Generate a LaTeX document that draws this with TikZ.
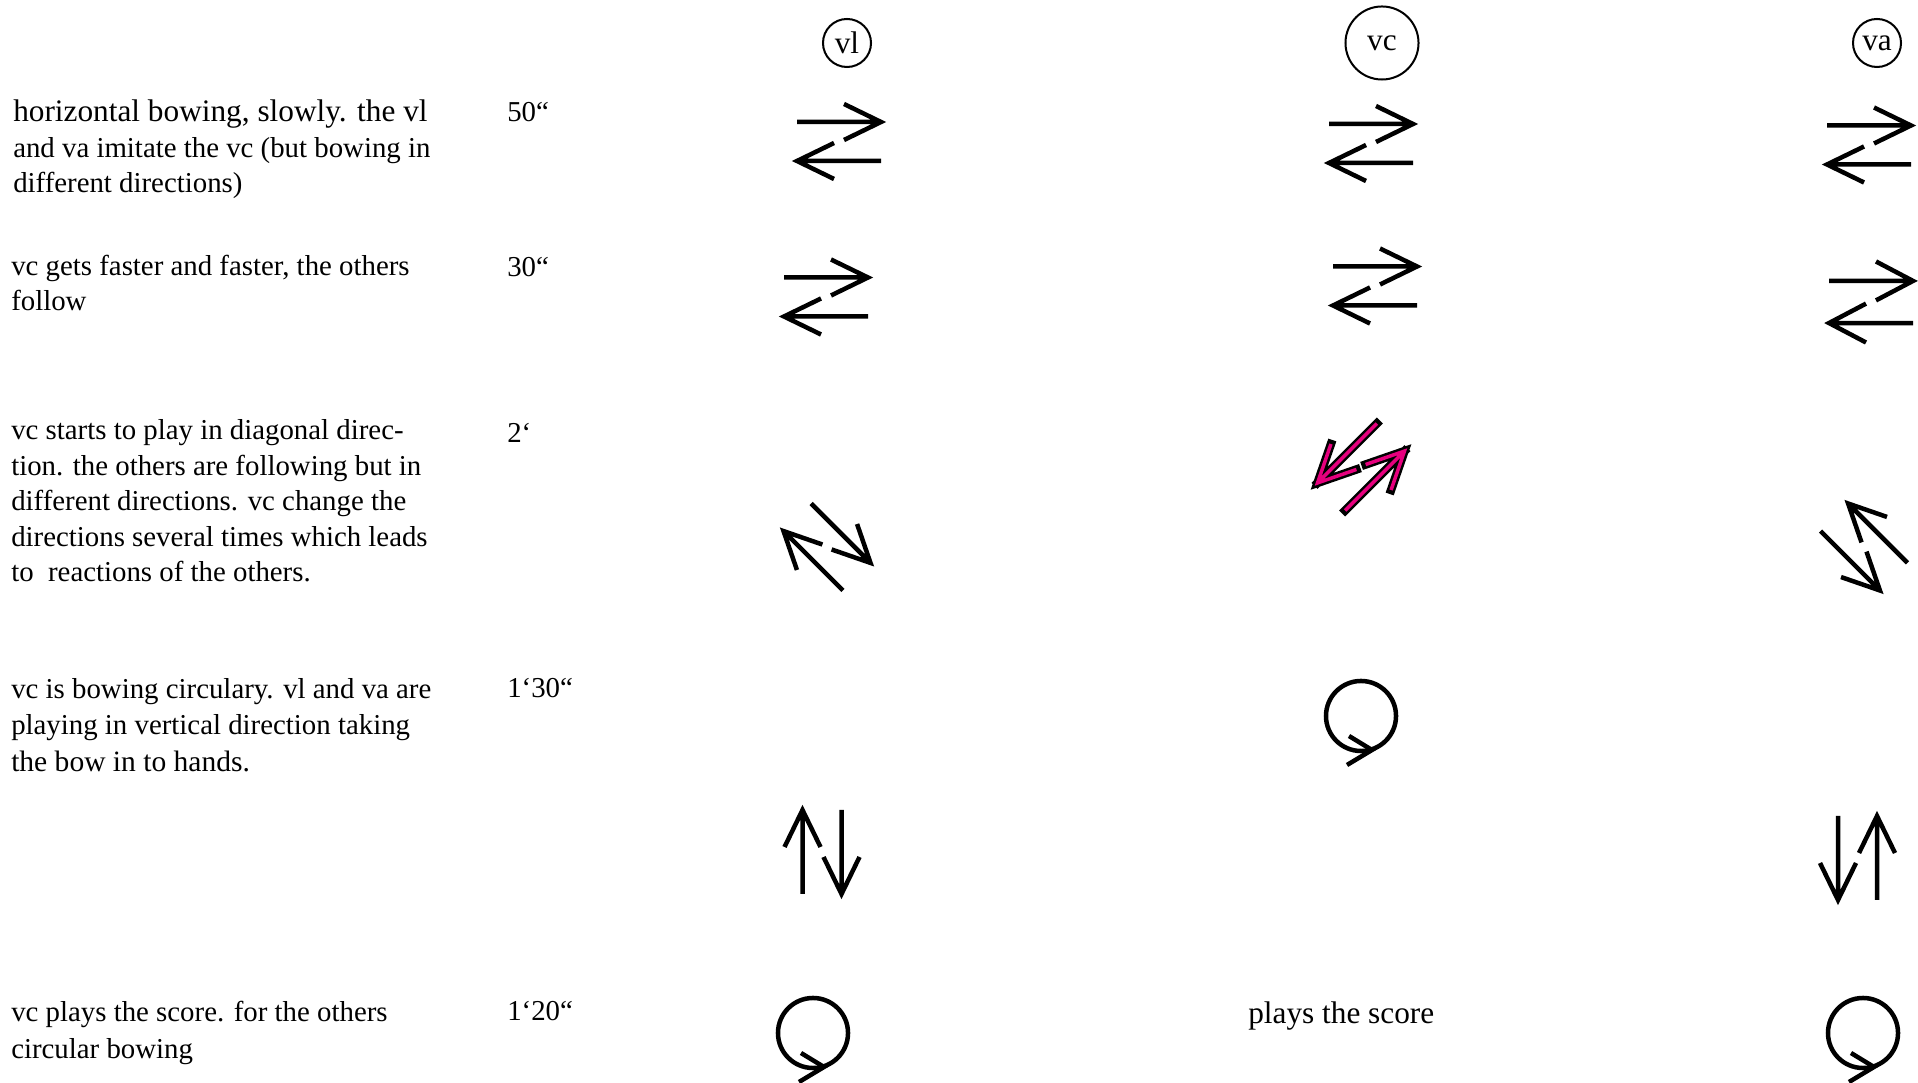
\documentclass[tikz,border=0pt]{standalone}
\usepackage{fontspec}
\setmainfont{Liberation Serif}
\usepackage{xcolor}
\definecolor{bowmagenta}{RGB}{230,0,126}
\usetikzlibrary{arrows.meta}

\newcommand\notefont{\fontsize{8.2}{10.1}\selectfont}
\newcommand\bignotefont{\fontsize{8.9}{10.1}\selectfont}

\tikzset{
  note/.style={anchor=base west, align=left, inner sep=0pt, font=\notefont},
  player/.style={draw, circle, line width=0.2mm, inner sep=0pt, font=\bignotefont},
  % two opposite bow strokes
  bowpair/.pic={
    \draw (-42,-19.5) -- (42,-19.5) (5,-37.5) -- (42,-19.5) -- (5,-1.5);
    \draw (42,19.5) -- (-42,19.5) (-5,1.5) -- (-42,19.5) -- (-5,37.5);
  },
  % circular bowing
  circbow/.pic={
    \draw (0,0) circle (0.35cm);
    \draw (-12,20) -- (11,34) -- (-14,49);
  },
}

\begin{document}
\begin{tikzpicture}[x=0.01cm, y=-0.01cm, line width=0.45mm]
  \useasboundingbox (0,0) rectangle (1918,1083);

  % players
  \node[player, minimum size=0.48cm] (vl) at (847,43) {vl};
  \node[player, minimum size=0.73cm] (vc) at (1382,43) {vc};
  \node[player, minimum size=0.48cm] (va) at (1877,43) {va};

  % --- 1: horizontal bowing (base = last line) ---
  \node[note] (note1) at (11,193) {{\bignotefont horizontal bowing, slowly. the vl}\\and va imitate the vc (but bowing in\\different directions)};
  \node[note] (time1) at (505,122) {50``};
  \pic at (839,141.5) {bowpair};
  \pic at (1371,143.5) {bowpair};
  \pic at (1869,145) {bowpair};

  % --- 2: faster ---
  \node[note] (note2) at (9,311) {vc gets faster and faster, the others\\follow};
  \node[note] (time2) at (505,277) {30``};
  \pic at (826,297) {bowpair};
  \pic at (1375,286) {bowpair};
  \pic[yscale=1.08] at (1871,302) {bowpair};

  % --- 3: diagonal ---
  \node[note] (note3) at (9,582) {vc starts to play in diagonal direc-\\tion. the others are following but in\\different directions. vc change the\\directions several times which leads\\to \ reactions of the others.};
  \node[note] (time3) at (505,443) {2`};
  \pic[rotate=-45] at (827,547) {bowpair};
  \pic[rotate=45, xscale=-1, line width=0.85mm, line cap=rect] at (1361,467) {bowpair};
  \pic[rotate=45, xscale=-1, line width=0.35mm, color=bowmagenta] at (1361,467) {bowpair};
  \pic[rotate=-45, xscale=-1] at (1864,547) {bowpair};

  % --- 4: circular / vertical ---
  \node[note] (note4) at (9,772) {vc is bowing circulary. vl and va are\\playing in vertical direction taking\\[0.7pt]{\fontsize{8.4}{10.1}\selectfont the bow in to hands.}};
  \node[note] (time4) at (505,698) {1`30``};
  \pic at (1361,716) {circbow};
  \pic[rotate=90] at (822,852) {bowpair};
  \pic[rotate=90, xscale=-1] at (1857.5,858) {bowpair};

  % --- 5: score ---
  \node[note] (note5) at (9,1059) {vc plays the score. for the others\\[0.6pt]circular bowing};
  \node[note] (time5) at (505,1021) {1`20``};
  \pic at (813,1033) {circbow};
  \node[note, font=\bignotefont] (score) at (1246,1024) {plays the score};
  \pic at (1863,1033) {circbow};
\end{tikzpicture}
\end{document}
